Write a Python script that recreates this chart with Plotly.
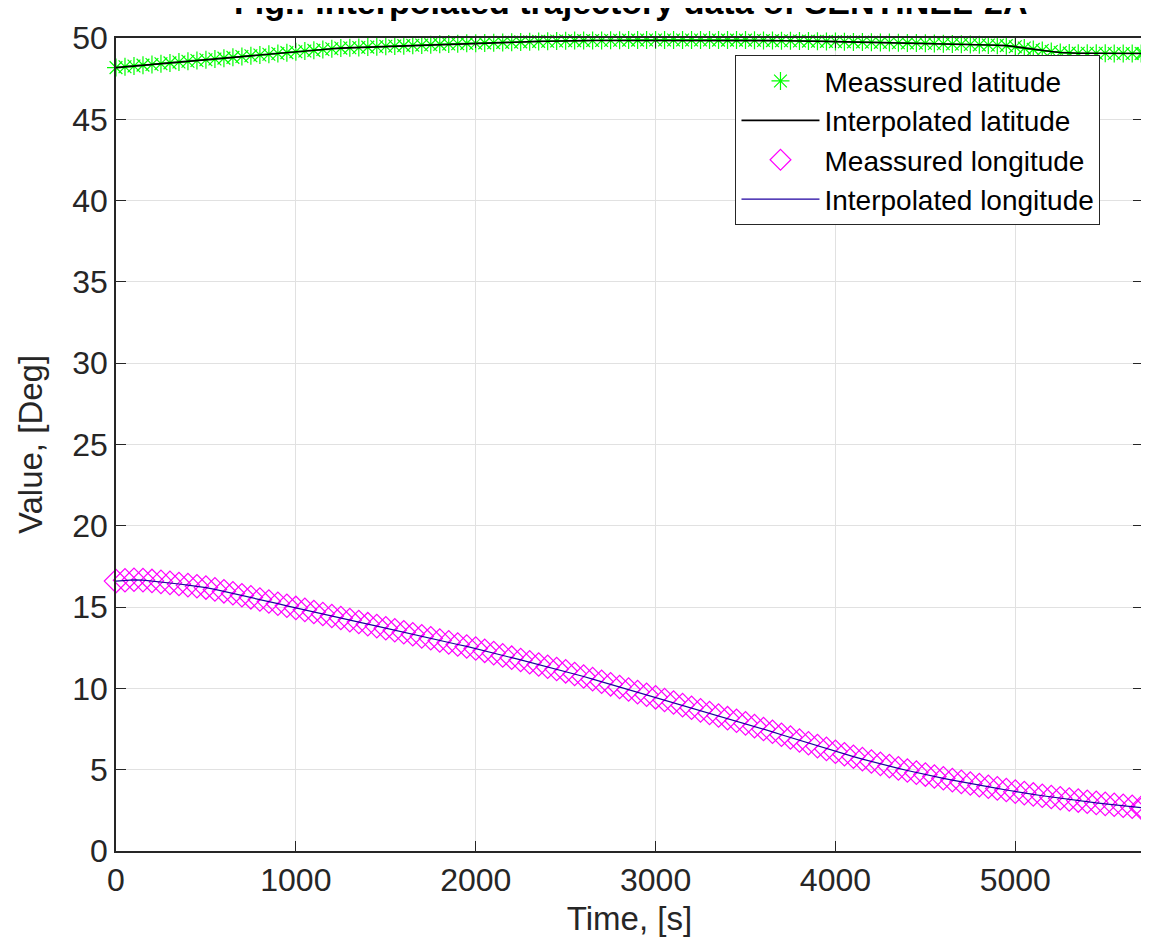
import plotly.graph_objects as go

# Sampling times [s]
time_s = [0, 50, 100, 150, 200, 250, 300, 350, 400, 450, 500, 550, 600, 650, 700, 750, 800, 850, 900, 950,
          1000, 1050, 1100, 1150, 1200, 1250, 1300, 1350, 1400, 1450, 1500, 1550, 1600, 1650, 1700, 1750, 1800, 1850, 1900, 1950,
          2000, 2050, 2100, 2150, 2200, 2250, 2300, 2350, 2400, 2450, 2500, 2550, 2600, 2650, 2700, 2750, 2800, 2850, 2900, 2950,
          3000, 3050, 3100, 3150, 3200, 3250, 3300, 3350, 3400, 3450, 3500, 3550, 3600, 3650, 3700, 3750, 3800, 3850, 3900, 3950,
          4000, 4050, 4100, 4150, 4200, 4250, 4300, 4350, 4400, 4450, 4500, 4550, 4600, 4650, 4700, 4750, 4800, 4850, 4900, 4950,
          5000, 5050, 5100, 5150, 5200, 5250, 5300, 5350, 5400, 5450, 5500, 5550, 5600, 5650, 5700, 5710]

latitude = [48.18, 48.23, 48.28, 48.33, 48.37, 48.42, 48.47, 48.52, 48.57, 48.62, 48.66, 48.71, 48.76, 48.81, 48.86, 48.91, 48.95, 49.00, 49.05, 49.10,
            49.15, 49.20, 49.24, 49.29, 49.34, 49.38, 49.40, 49.42, 49.44, 49.46, 49.49, 49.51, 49.53, 49.55, 49.57, 49.59, 49.61, 49.63, 49.65, 49.67,
            49.68, 49.70, 49.71, 49.73, 49.74, 49.76, 49.77, 49.79, 49.80, 49.82, 49.83, 49.84, 49.84, 49.85, 49.85, 49.86, 49.86, 49.87, 49.87, 49.88,
            49.88, 49.88, 49.88, 49.88, 49.88, 49.88, 49.88, 49.87, 49.87, 49.87, 49.87, 49.86, 49.85, 49.84, 49.83, 49.83, 49.82, 49.81, 49.80, 49.79,
            49.78, 49.77, 49.76, 49.75, 49.74, 49.73, 49.72, 49.71, 49.70, 49.69, 49.68, 49.66, 49.65, 49.63, 49.62, 49.60, 49.58, 49.57, 49.55, 49.53,
            49.46, 49.38, 49.30, 49.23, 49.17, 49.11, 49.07, 49.06, 49.06, 49.06, 49.06, 49.05, 49.05, 49.05, 49.05, 49.05]

longitude = [16.60, 16.65, 16.68, 16.66, 16.61, 16.55, 16.49, 16.42, 16.35, 16.28, 16.20, 16.09, 15.97, 15.85, 15.73, 15.60, 15.47, 15.34, 15.21, 15.08,
             14.95, 14.83, 14.70, 14.58, 14.45, 14.33, 14.20, 14.08, 13.95, 13.83, 13.70, 13.58, 13.45, 13.33, 13.20, 13.08, 12.95, 12.83, 12.70, 12.58,
             12.45, 12.31, 12.17, 12.03, 11.89, 11.75, 11.61, 11.47, 11.33, 11.19, 11.05, 10.89, 10.73, 10.57, 10.41, 10.25, 10.09, 9.93, 9.77, 9.61,
             9.45, 9.29, 9.13, 8.97, 8.81, 8.65, 8.49, 8.33, 8.17, 8.01, 7.85, 7.68, 7.50, 7.33, 7.15, 6.98, 6.80, 6.63, 6.45, 6.28,
             6.10, 5.95, 5.80, 5.65, 5.50, 5.36, 5.22, 5.08, 4.95, 4.82, 4.70, 4.58, 4.47, 4.36, 4.25, 4.15, 4.05, 3.95, 3.85, 3.75,
             3.65, 3.56, 3.48, 3.40, 3.32, 3.24, 3.17, 3.10, 3.03, 2.96, 2.90, 2.84, 2.78, 2.72, 2.66, 2.65]

x_ticks = [0, 1000, 2000, 3000, 4000, 5000]
y_ticks = [0, 5, 10, 15, 20, 25, 30, 35, 40, 45, 50]

FONT = "Liberation Sans, Arial, sans-serif"
AX = "rgb(38,38,38)"

fig = go.Figure()
fig.add_trace(go.Scatter(x=time_s, y=latitude, mode="markers", name="Meassured latitude",
                         cliponaxis=False,
                         marker=dict(symbol="asterisk-open", size=15, color="rgb(0,255,0)",
                                     line=dict(color="rgb(0,235,0)", width=1.2))))
fig.add_trace(go.Scatter(x=time_s, y=latitude, mode="lines", name="Interpolated latitude",
                         line=dict(color="black", width=1.6)))
fig.add_trace(go.Scatter(x=time_s, y=longitude, mode="markers", name="Meassured longitude",
                         cliponaxis=False,
                         marker=dict(symbol="diamond-open", size=18, color="rgb(255,0,255)",
                                     line=dict(color="rgb(240,0,240)", width=1.2))))
fig.add_trace(go.Scatter(x=time_s, y=longitude, mode="lines", name="Interpolated longitude",
                         line=dict(color="rgb(30,0,160)", width=1.2)))

axis_common = dict(showgrid=True, gridcolor="rgb(225,225,225)", gridwidth=1,
                   showline=True, linecolor=AX, linewidth=1.5, mirror="ticks",
                   ticks="inside", ticklen=10, tickwidth=1.2, tickcolor=AX,
                   zeroline=False, tickfont=dict(family=FONT, size=32, color=AX))

fig.update_xaxes(range=[0, 5710], tickvals=x_ticks,
                 title=dict(text="Time, [s]", font=dict(family=FONT, size=33, color=AX), standoff=10),
                 **axis_common)
fig.update_yaxes(range=[0, 50], tickvals=y_ticks, ticksuffix="\u00a0",
                 title=dict(text="Value, [Deg]", font=dict(family=FONT, size=33, color=AX), standoff=20),
                 **axis_common)

fig.update_layout(
    width=1149, height=944,
    margin=dict(l=108, r=12, t=22, b=101),
    paper_bgcolor="white", plot_bgcolor="white",
    title=dict(text="<b>Fig.: Interpolated trajectory data of SENTINEL-2A</b>",
               font=dict(family=FONT, size=34, color="black"),
               x=0.542, xanchor="center", yref="container", y=1 - 6 / 944, yanchor="bottom"),
    legend=dict(x=0.603, y=0.979, xanchor="left", yanchor="top",
                bgcolor="white", bordercolor=AX, borderwidth=1.2,
                font=dict(family=FONT, size=28, color="black"),
                itemwidth=78),
    showlegend=True,
)

fig.write_html("out.html")
